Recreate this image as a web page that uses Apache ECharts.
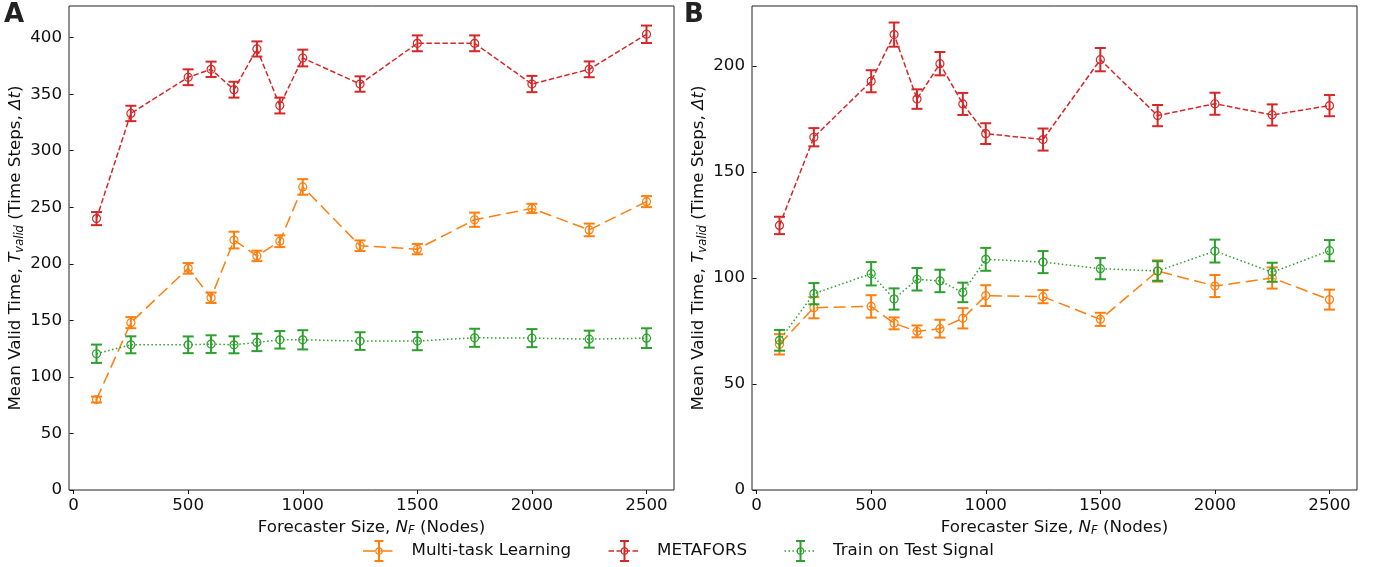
<!DOCTYPE html>
<html>
<head>
<meta charset="utf-8">
<script src="https://cdn.jsdelivr.net/npm/echarts@6/dist/echarts.min.js"></script>
<style>
  html, body { margin: 0; padding: 0; background: #fff; }
  #chart { width: 1380px; height: 567px; }
</style>
</head>
<body>
<div id="chart"></div>
<script>
  // forecaster sizes (x)
  var sizes = [100, 250, 500, 600, 700, 800, 900, 1000, 1250, 1500, 1750, 2000, 2250, 2500];

  // panel A
  var mtlA = [80, 148, 196, 170, 221, 207, 220, 268, 216, 213, 239, 249, 230, 255];
  var mtlAErr = [2.6, 4.9, 4.7, 4.6, 7.4, 4.6, 5.2, 6.9, 4.7, 4.6, 6.3, 4.1, 5.6, 4.9];
  var metaA = [240, 333, 365, 372, 354, 390, 340, 382, 359, 395, 395, 359, 372, 403];
  var metaAErr = [5.8, 6.8, 7, 6.8, 7, 6.7, 7, 7.4, 6.8, 7, 7, 7.2, 7, 7.7];
  var testA = [120.5, 128.4, 128.4, 129, 128.4, 130.5, 132.8, 132.8, 131.7, 131.7, 134.6, 134.3, 133.4, 134.3];
  var testAErr = [8.1, 7.5, 7.4, 7.8, 7.5, 7.7, 7.7, 8.5, 7.8, 8.1, 8, 8, 7.5, 8.7];

  // panel B
  var mtlB = [68.7, 86, 86.6, 78.6, 74.8, 76.1, 81, 91.7, 91.2, 80.5, 103.3, 96.2, 100, 89.8];
  var mtlBErr = [4.8, 5, 5.3, 2.8, 2.8, 4.2, 4.8, 4.9, 3.1, 3.1, 5, 5.2, 5, 4.7];
  var metaB = [124.8, 166.4, 192.8, 214.8, 184.4, 201.1, 182.1, 168.1, 165.3, 203, 176.6, 182.2, 176.9, 181.3];
  var metaBErr = [4.1, 4.3, 5.2, 5.7, 4.6, 5.5, 5.2, 4.9, 5.2, 5.5, 5, 5.2, 5, 5];
  var testB = [70.6, 92.6, 102, 90.1, 99.4, 98.6, 93.2, 108.8, 107.5, 104.4, 103.3, 112.7, 102.7, 112.9];
  var testBErr = [4.9, 5, 5.5, 5, 5.3, 5.3, 4.6, 5.4, 5.2, 5, 4.6, 5.4, 4.5, 5];

  // tick labels
  var xTicks = [0, 500, 1000, 1500, 2000, 2500];
  var yTicksA = [0, 50, 100, 150, 200, 250, 300, 350, 400];
  var yTicksB = [0, 50, 100, 150, 200];

  var names = ['Multi-task Learning', 'METAFORS', 'Train on Test Signal'];
  var colors = ['#ff7f0e', '#d62728', '#2ca02c'];
  var dashes = [[12, 5.5], [5.5, 2.5], [1.5, 2.5]];
  var FONT = 'DejaVu Sans';
  var FS = 16.7;
  var TXT = '#111';

  function pairs(ys) {
    return sizes.map(function (x, i) { return [x, ys[i]]; });
  }
  function triples(ys, es) {
    return sizes.map(function (x, i) { return [x, ys[i], es[i]]; });
  }

  function errRender(color) {
    return function (params, api) {
      var x = api.value(0), y = api.value(1), e = api.value(2);
      var lo = api.coord([x, y - e]);
      var hi = api.coord([x, y + e]);
      var w = 5.5;
      var st = { stroke: color, lineWidth: 2 };
      return {
        type: 'group',
        children: [
          { type: 'line', shape: { x1: lo[0], y1: lo[1], x2: hi[0], y2: hi[1] }, style: st },
          { type: 'line', shape: { x1: lo[0] - w, y1: lo[1], x2: lo[0] + w, y2: lo[1] }, style: st },
          { type: 'line', shape: { x1: hi[0] - w, y1: hi[1], x2: hi[0] + w, y2: hi[1] }, style: st }
        ]
      };
    };
  }

  var nameRich = {
    n: { fontFamily: FONT, fontSize: FS, color: TXT, lineHeight: 20 },
    i: { fontFamily: FONT, fontSize: FS, color: TXT, fontStyle: 'italic', lineHeight: 20 },
    s: { fontFamily: FONT, fontSize: 11.5, color: TXT, fontStyle: 'italic', verticalAlign: 'bottom', lineHeight: 13 }
  };

  function xAxis(idx) {
    return {
      type: 'value', gridIndex: idx, min: -20, max: 2620,
      name: '{n|Forecaster Size, }{i|N}{s|F}{n| (Nodes)}',
      nameLocation: 'middle', nameGap: 21,
      nameTextStyle: { rich: nameRich },
      axisLine: { show: false },
      splitLine: { show: false },
      axisTick: { show: true, length: 4, lineStyle: { color: TXT }, customValues: xTicks },
      axisLabel: {
        fontFamily: FONT, fontSize: FS, color: TXT, margin: 7, customValues: xTicks,
        formatter: function (v) { return String(v); }
      }
    };
  }

  function yAxis(idx, max, ticks) {
    return {
      type: 'value', gridIndex: idx, min: 0, max: max,
      name: '{n|Mean Valid Time, }{i|T}{s|valid}{n| (Time Steps, }{i|Δt}{n|)}',
      nameLocation: 'middle', nameGap: 43, nameRotate: 90,
      nameTextStyle: { rich: nameRich },
      axisLine: { show: false },
      splitLine: { show: false },
      axisTick: { show: true, length: 4, lineStyle: { color: TXT }, customValues: ticks },
      axisLabel: {
        fontFamily: FONT, fontSize: FS, color: TXT, margin: 7, customValues: ticks,
        formatter: function (v) { return String(v); }
      }
    };
  }

  var panels = [
    { m: mtlA, me: mtlAErr, r: metaA, re: metaAErr, g: testA, ge: testAErr },
    { m: mtlB, me: mtlBErr, r: metaB, re: metaBErr, g: testB, ge: testBErr }
  ];

  var series = [];
  panels.forEach(function (p, pi) {
    var sets = [[p.m, p.me], [p.r, p.re], [p.g, p.ge]];
    sets.forEach(function (s, k) {
      series.push({
        name: names[k], type: 'line', xAxisIndex: pi, yAxisIndex: pi,
        data: pairs(s[0]),
        symbol: 'circle', symbolSize: 8, showAllSymbol: true,
        itemStyle: { color: 'rgba(255,255,255,0)', borderColor: colors[k], borderWidth: 1.2 },
        lineStyle: { color: colors[k], width: 1.5, type: dashes[k] },
        z: 3 + k * 2, animation: false
      });
      series.push({
        name: 'err' + pi + k, type: 'custom', xAxisIndex: pi, yAxisIndex: pi,
        data: triples(s[0], s[1]),
        encode: { x: 0, y: 1 },
        renderItem: errRender(colors[k]),
        z: 2 + k * 2, animation: false
      });
    });
  });

  // legend drawn by hand so the handles show the error-bar glyph
  var legendX = [411.5, 657, 833];
  var legendY = 551;
  var legendItems = [];
  names.forEach(function (nm, k) {
    var cx = legendX[k] - 32.5;
    var st = { stroke: colors[k], lineWidth: 2 };
    legendItems.push({
      type: 'group', silent: true,
      children: [
        { type: 'line', shape: { x1: cx - 16, y1: legendY, x2: cx + 16, y2: legendY },
          style: { stroke: colors[k], lineWidth: 1.5, lineDash: dashes[k] } },
        { type: 'line', shape: { x1: cx, y1: legendY - 10, x2: cx, y2: legendY + 10 }, style: st },
        { type: 'line', shape: { x1: cx - 4.5, y1: legendY - 10, x2: cx + 4.5, y2: legendY - 10 }, style: st },
        { type: 'line', shape: { x1: cx - 4.5, y1: legendY + 10, x2: cx + 4.5, y2: legendY + 10 }, style: st },
        { type: 'circle', shape: { cx: cx, cy: legendY, r: 3.2 },
          style: { fill: 'rgba(255,255,255,0)', stroke: colors[k], lineWidth: 1.2 } },
        { type: 'text', x: legendX[k], y: legendY,
          style: { text: nm, fontFamily: FONT, fontSize: FS, fill: TXT, verticalAlign: 'middle', align: 'left' } }
      ]
    });
  });

  var chart = echarts.init(document.getElementById('chart'), null, { renderer: 'canvas' });
  chart.setOption({
    animation: false,
    backgroundColor: '#fff',
    grid: [
      { left: 69, right: 706, top: 6, bottom: 77, show: true, borderColor: '#222', borderWidth: 1, backgroundColor: 'transparent' },
      { left: 752, right: 23, top: 6, bottom: 77, show: true, borderColor: '#222', borderWidth: 1, backgroundColor: 'transparent' }
    ],
    xAxis: [xAxis(0), xAxis(1)],
    yAxis: [yAxis(0, 428, yTicksA), yAxis(1, 228.3, yTicksB)],
    graphic: [
      { type: 'text', left: 4, top: 2, style: { text: 'A', fontFamily: FONT, fontWeight: 'bold', fontSize: 26, fill: '#222' } },
      { type: 'text', left: 684, top: 2, style: { text: 'B', fontFamily: FONT, fontWeight: 'bold', fontSize: 26, fill: '#222' } }
    ].concat(legendItems),
    series: series
  });
</script>
</body>
</html>
